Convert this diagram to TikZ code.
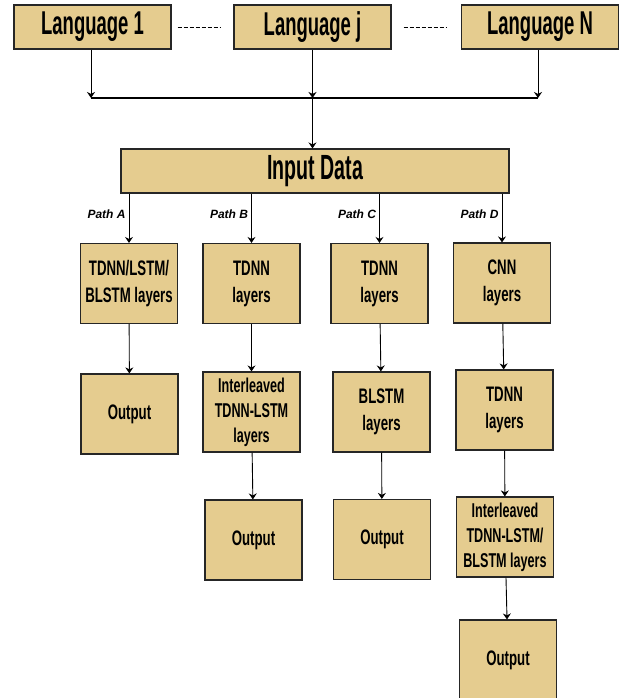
\documentclass[tikz,border=0pt]{standalone}
\usepackage{fontspec}
\setmainfont{Liberation Sans}[FakeStretch=0.63]
\newfontfamily\headfont{Liberation Sans}[FakeStretch=0.56]
\newfontfamily\pathfont{Liberation Sans}
\usetikzlibrary{arrows.meta}
\definecolor{boxfill}{RGB}{229,204,143}
\begin{document}
\begin{tikzpicture}[x=1pt,y=-1pt,
  box/.style={draw=black!85,line width=1.2pt,fill=boxfill,inner sep=0pt,
    minimum width=97pt,minimum height=80pt,align=center,
    font=\bfseries\fontsize{21}{27}\selectfont},
  tightbox/.style={box,font=\bfseries\fontsize{20}{25}\selectfont},
  headbox/.style={box,minimum width=157pt,minimum height=44pt,
    font=\headfont\bfseries\fontsize{33}{40}\selectfont},
  inbox/.style={headbox,minimum width=388pt,
    font=\headfont\bfseries\fontsize{35}{40}\selectfont},
  arr/.style={line width=0.9pt,-{Stealth[length=6pt,width=8pt,inset=2pt]}},
  pathlbl/.style={left,inner sep=3pt,pos=0.42,
    font=\pathfont\bfseries\itshape\fontsize{12}{14}\selectfont}]
\useasboundingbox (0,0) rectangle (627,698);
\node[headbox] (l1) at (92.5,27) {Language 1};
\node[headbox] (lj) at (312.5,27) {Language j};
\node[headbox] (lN) at (540,27) {Language N};
\draw[line width=0.9pt,dash pattern=on 4pt off 2pt,shorten <=6pt,shorten >=12pt](l1)--(lj);
\draw[line width=0.9pt,dash pattern=on 4pt off 2pt,shorten <=12pt,shorten >=14pt](lj)--(lN);
\coordinate (barl) at (91,98);
\coordinate (barr) at (538,98);
\draw[line width=2pt](barl)--(barr);
\draw[arr](l1.south -| barl)--(barl);
\draw[arr](lj.south)--(lj.south |- barl);
\draw[arr](lN.south -| barr)--(barr);
\node[inbox] (input) at (315,171) {Input Data};
\draw[arr](lj.south |- barl)--(lj.south |- input.north);
% path A
\node[box] (a1) at (129,283.5) {TDNN/LSTM/\\BLSTM layers};
\node[box] (a2) at (129.5,414) {Output};
% path B
\node[box] (b1) at (251.5,283.5) {TDNN\\layers};
\node[tightbox] (b2) at (251.5,412) {Interleaved\\TDNN-LSTM\\layers};
\node[box] (b3) at (253.5,540) {Output};
% path C
\node[box] (c1) at (379.5,283.5) {TDNN\\layers};
\node[box] (c2) at (381.5,412) {BLSTM\\layers};
\node[box] (c3) at (382,539.5) {Output};
% path D
\node[box] (d1) at (502,283) {CNN\\layers};
\node[box] (d2) at (504.5,410) {TDNN\\layers};
\node[tightbox] (d3) at (505,537) {Interleaved\\TDNN-LSTM/\\BLSTM layers};
\node[box] (d4) at (508,660) {Output};
\draw[arr](a1 |- input.south)--node[pathlbl]{Path A}(a1);
\draw[arr](b1 |- input.south)--node[pathlbl]{Path B}(b1);
\draw[arr](c1 |- input.south)--node[pathlbl]{Path C}(c1);
\draw[arr](d1 |- input.south)--node[pathlbl]{Path D}(d1);
\draw[arr](a1)--(a2);
\draw[arr](b1)--(b2);
\draw[arr](b2)--(b3);
\draw[arr](c1)--(c2);
\draw[arr](c2)--(c3);
\draw[arr](d1)--(d2);
\draw[arr](d2)--(d3);
\draw[arr](d3)--(d4);
\end{tikzpicture}
\end{document}
